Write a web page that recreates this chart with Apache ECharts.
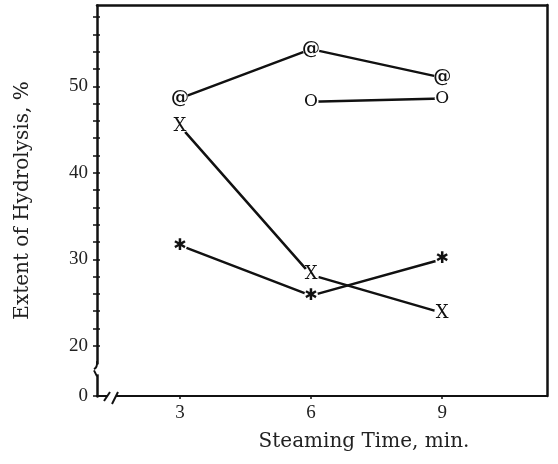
<!DOCTYPE html>
<html>
<head>
<meta charset="utf-8">
<script src="https://cdn.jsdelivr.net/npm/echarts@6/dist/echarts.min.js"></script>
<style>html,body{margin:0;padding:0;background:#fff;}#c{width:558px;height:464px;}</style>
</head>
<body>
<div id="c"></div>
<script>
// Data
const steamingTime = [3, 6, 9];
const seriesAt = [48.6, 54.3, 51.0];     // "@" markers
const seriesO = [null, 48.2, 48.6];      // "O" markers
const seriesX = [45.4, 28.2, 23.8];      // "X" markers
const seriesStar = [31.6, 25.8, 30.0];   // "*" markers
const xTicks = [3, 6, 9];
const yLabels = [0, 20, 30, 40, 50];
const yTicks = [0, 20, 22, 24, 26, 28, 30, 32, 34, 36, 38, 40, 42, 44, 46, 48, 50, 52, 54, 56, 58];

const serif = 'DejaVu Serif';
const digits = 'Liberation Serif';

function pairs(vals) {
  const out = [];
  vals.forEach((v, i) => { if (v !== null) out.push([steamingTime[i], v]); });
  return out;
}

const X_MIN = 1.1, X_MAX = 11.4, Y_MIN = 0, Y_MAX = 59.4;
const BREAK_START = 2.5, BREAK_END = 18;
const yBreaks = [{ start: BREAK_START, end: BREAK_END, gap: '2.9%' }];

function markerSeries(vals, glyph, font, size, symSize, bold) {
  return {
    type: 'line',
    data: pairs(vals),
    xAxisIndex: 0, yAxisIndex: 0,
    symbol: 'circle',
    symbolSize: symSize,
    itemStyle: { color: '#fff', borderWidth: 0 },
    lineStyle: { color: '#111', width: 2.5 },
    label: { show: true, position: 'inside', formatter: glyph, color: '#111', fontFamily: font, fontSize: size, fontWeight: bold ? 'bold' : 'normal' },
    emphasis: { disabled: true },
    animation: false,
    z: 3
  };
}

const chart = echarts.init(document.getElementById('c'), null, { renderer: 'canvas' });
chart.setOption({
  animation: false,
  backgroundColor: '#fff',
  grid: { left: 97, right: 11, top: 5, bottom: 68, containLabel: false, outerBoundsMode: 'none' },
  xAxis: [
    {
      type: 'value', min: X_MIN, max: X_MAX, position: 'bottom',
      name: 'Steaming Time, min.', nameLocation: 'middle', nameGap: 36,
      nameTextStyle: { fontFamily: serif, fontSize: 20, color: '#222', padding: [0, 0, 0, 84] },
      axisLine: { show: true, onZero: false, lineStyle: { color: '#111', width: 2 } },
      axisTick: { show: true, customValues: xTicks, length: 3, lineStyle: { color: '#111', width: 1.5 } },
      axisLabel: { show: true, customValues: xTicks, margin: 8, fontFamily: digits, fontSize: 19, color: '#222' },
      splitLine: { show: false }
    },
    {
      type: 'value', min: X_MIN, max: X_MAX, position: 'top',
      axisLine: { show: true, onZero: false, lineStyle: { color: '#111', width: 2.5 } },
      axisTick: { show: false }, axisLabel: { show: false }, splitLine: { show: false }
    }
  ],
  yAxis: [
    {
      type: 'value', min: Y_MIN, max: Y_MAX, position: 'left',
      breaks: yBreaks,
      breakArea: { show: false },
      name: 'Extent of Hydrolysis, %', nameLocation: 'middle', nameGap: 64, nameRotate: 90,
      nameTextStyle: { fontFamily: serif, fontSize: 20, color: '#222' },
      axisLine: { show: true, onZero: false, lineStyle: { color: '#111', width: 2.5 } },
      axisTick: { show: true, customValues: yTicks, length: 4, lineStyle: { color: '#111', width: 1.5 } },
      axisLabel: { show: true, customValues: yLabels, margin: 9, fontFamily: digits, fontSize: 19, color: '#222' },
      splitLine: { show: false }
    },
    {
      type: 'value', min: Y_MIN, max: Y_MAX, position: 'right',
      axisLine: { show: true, onZero: false, lineStyle: { color: '#111', width: 2.5 } },
      axisTick: { show: false }, axisLabel: { show: false }, splitLine: { show: false }
    },
    {
      type: 'value', min: Y_MIN, max: Y_MAX, position: 'left', z: 20,
      breaks: yBreaks,
      breakArea: { show: false },
      axisLine: { show: false, onZero: false },
      axisTick: { show: true, inside: true, customValues: yTicks, length: 3, lineStyle: { color: '#111', width: 1.5 } },
      axisLabel: { show: false }, splitLine: { show: false }
    }
  ],
  series: [
    markerSeries(seriesAt, '@', serif, 18, 17, true),
    markerSeries(seriesO, 'O', serif, 17, 15, false),
    markerSeries(seriesX, 'X', serif, 18, 16, false),
    markerSeries(seriesStar, '✱', 'DejaVu Sans', 16, 14, false)
  ]
});

// Axis-break decorations (vertical gap with curls, and "//" on the horizontal axis)
const ox = chart.convertToPixel({ xAxisIndex: 0 }, X_MIN);
const oy = chart.convertToPixel({ yAxisIndex: 0 }, Y_MIN);
const pTop = chart.convertToPixel({ yAxisIndex: 0 }, BREAK_END);
const pBot = chart.convertToPixel({ yAxisIndex: 0 }, BREAK_START);
chart.setOption({
  graphic: [
    { type: 'rect', shape: { x: ox - 4, y: pTop + 2, width: 8, height: pBot - pTop - 2 }, style: { fill: '#fff' }, z: 30 },
    { type: 'bezierCurve', shape: { x1: ox, y1: pTop - 2, cpx1: ox + 0.5, cpy1: pTop + 3, x2: ox - 3, y2: pTop + 6, cpx2: ox - 1, cpy2: pTop + 5 }, style: { stroke: '#111', lineWidth: 2, fill: 'none' }, z: 31 },
    { type: 'line', shape: { x1: ox, y1: pBot + 2, x2: ox - 3, y2: pBot - 4 }, style: { stroke: '#111', lineWidth: 2 }, z: 31 },
    { type: 'rect', shape: { x: ox + 11, y: oy - 4, width: 8, height: 8 }, style: { fill: '#fff' }, z: 30 },
    { type: 'line', shape: { x1: ox + 7, y1: oy + 5, x2: ox + 13, y2: oy - 4 }, style: { stroke: '#111', lineWidth: 2 }, z: 31 },
    { type: 'line', shape: { x1: ox + 15, y1: oy + 8, x2: ox + 21, y2: oy - 4 }, style: { stroke: '#111', lineWidth: 2 }, z: 31 }
  ]
});
</script>
</body>
</html>
